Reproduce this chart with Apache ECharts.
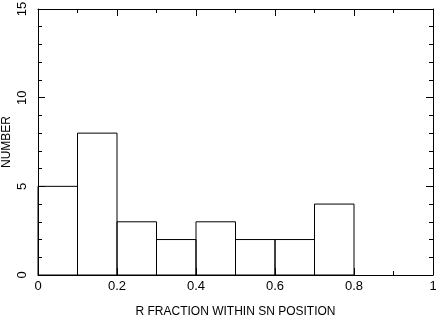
<!DOCTYPE html>
<html>
<head>
<meta charset="utf-8">
<script src="https://cdn.jsdelivr.net/npm/echarts@6/dist/echarts.min.js"></script>
<style>html,body{margin:0;padding:0;background:#fff}#c{width:436px;height:318px}</style>
</head>
<body>
<div id="c"></div>
<script>
const binStarts = [0.0, 0.1, 0.2, 0.3, 0.4, 0.5, 0.6, 0.7, 0.8, 0.9];
const binWidth = 0.1;
const counts = [5, 8, 3, 2, 3, 2, 2, 4, 0, 0];
const xLabel = 'R FRACTION WITHIN SN POSITION';
const yLabel = 'NUMBER';

const chart = echarts.init(document.getElementById('c'), null, {renderer: 'canvas'});
const font = 'Liberation Sans, Arial, Helvetica, sans-serif';
const lineC = '#000';
const data = binStarts.map((s, i) => [s, s + binWidth, counts[i]]).filter(d => d[2] > 0);

const baseAxis = {
  axisLine: {show: true, onZero: false, lineStyle: {color: lineC, width: 1}},
  axisTick: {show: true, inside: true, length: 7, lineStyle: {color: lineC}},
  minorTick: {show: true, length: 4, lineStyle: {color: lineC}},
  splitLine: {show: false},
  minorSplitLine: {show: false}
};

chart.setOption({
  animation: false,
  grid: {left: 38, right: 3, top: 9, bottom: 43, containLabel: false, outerBoundsMode: 'none'},
  xAxis: [
    Object.assign({}, baseAxis, {
      type: 'value', min: 0, max: 1, interval: 0.2, position: 'bottom',
      minorTick: Object.assign({}, baseAxis.minorTick, {splitNumber: 2}),
      axisLabel: {show: true, color: '#000', fontFamily: font, fontSize: 13, margin: 5,
        formatter: v => (v === 0 || v === 1) ? String(v) : v.toFixed(1)},
      name: xLabel, nameLocation: 'middle', nameGap: 31, nameMoveOverlap: false,
      nameTextStyle: {color: '#000', fontFamily: font, fontSize: 12}
    }),
    Object.assign({}, baseAxis, {
      type: 'value', min: 0, max: 1, interval: 0.2, position: 'top',
      minorTick: Object.assign({}, baseAxis.minorTick, {splitNumber: 2}),
      axisLabel: {show: false}
    })
  ],
  yAxis: [
    Object.assign({}, baseAxis, {
      type: 'value', min: 0, max: 15, interval: 5, position: 'left',
      minorTick: Object.assign({}, baseAxis.minorTick, {splitNumber: 5}),
      axisLabel: {show: true, rotate: 90, color: '#000', fontFamily: font, fontSize: 13, margin: 9},
      name: yLabel, nameLocation: 'middle', nameGap: 25, nameRotate: 90, nameMoveOverlap: false,
      nameTextStyle: {color: '#000', fontFamily: font, fontSize: 12}
    }),
    Object.assign({}, baseAxis, {
      type: 'value', min: 0, max: 15, interval: 5, position: 'right',
      minorTick: Object.assign({}, baseAxis.minorTick, {splitNumber: 5}),
      axisLabel: {show: false}
    })
  ],
  series: [{
    type: 'custom',
    xAxisIndex: 0, yAxisIndex: 0,
    data: data,
    encode: {x: [0, 1], y: 2},
    renderItem: function (params, api) {
      const p0 = api.coord([api.value(0), 0]);
      const p1 = api.coord([api.value(1), api.value(2)]);
      return {
        type: 'rect',
        shape: {x: p0[0], y: p1[1], width: p1[0] - p0[0], height: p0[1] - p1[1]},
        style: {fill: 'none', stroke: lineC, lineWidth: 1}
      };
    }
  }]
});
</script>
</body>
</html>
